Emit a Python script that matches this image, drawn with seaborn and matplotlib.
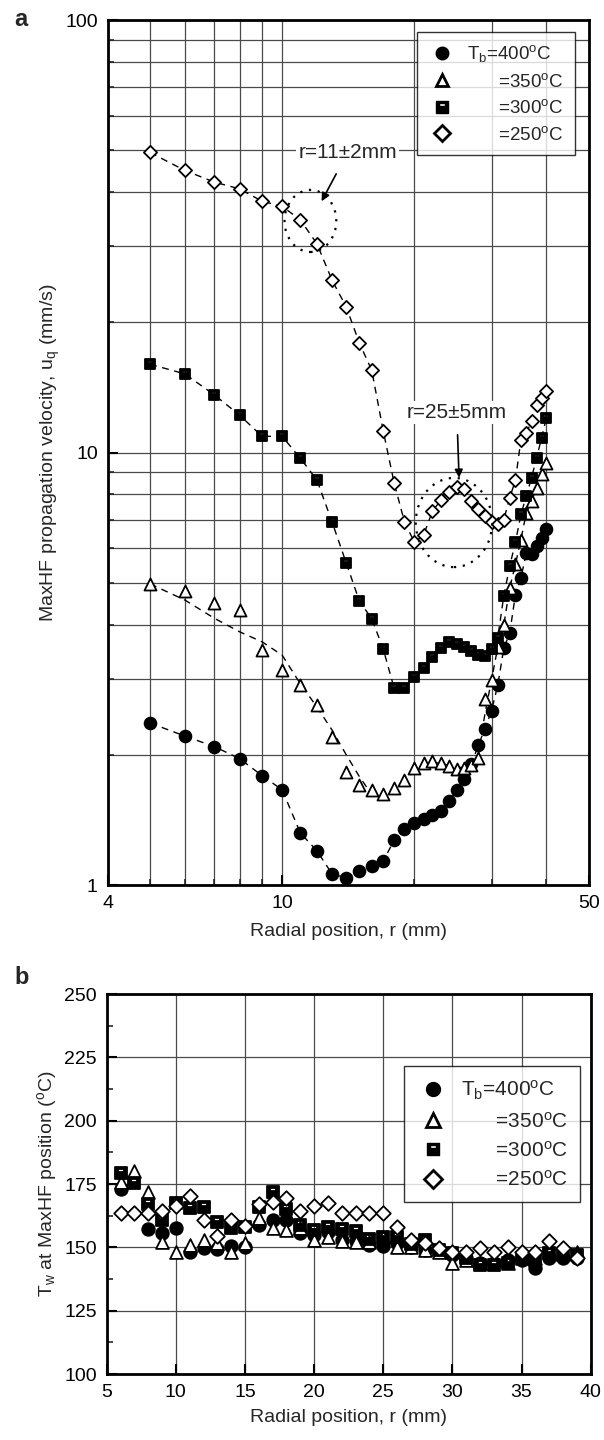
import numpy as np
import pandas as pd
import matplotlib
matplotlib.use("Agg")
import matplotlib.pyplot as plt
import seaborn as sns
from matplotlib.path import Path
from matplotlib.lines import Line2D
from matplotlib.patches import Ellipse
from matplotlib.ticker import FixedLocator, NullFormatter, FuncFormatter

# ---------------------- DATA ----------------------
# panel a: MaxHF propagation velocity (mm/s) vs radial position (mm)
r_a = list(range(5, 41))
u_400 = [2.37, 2.21, 2.09, 1.96, 1.79, 1.66, 1.32, 1.20, 1.06, 1.04, 1.076, 1.107,
         1.137, 1.27, 1.35, 1.39, 1.42, 1.45, 1.48, 1.56, 1.66, 1.76, 1.90, 2.11,
         2.30, 2.53, 2.90, 3.53, 3.82, 4.69, 5.13, 5.85, 5.83, 6.07, 6.35, 6.64]
u_350 = [4.97, 4.79, 4.49, 4.33, 3.50, 3.15, 2.90, 2.61, 2.20, 1.83, 1.70, 1.66,
         1.62, 1.68, 1.75, 1.86, 1.91, 1.94, 1.91, 1.88, 1.85, 1.86, 1.89, 1.97,
         2.69, 2.98, 3.55, 4.00, 4.86, 5.51, 6.29, 7.25, 7.72, 8.26, 8.90, 9.47]
u_300 = [16.0, 15.2, 13.6, 12.2, 10.9, 10.9, 9.7, 8.64, 6.90, 5.55, 4.53, 4.13,
         3.51, 2.85, 2.86, 3.02, 3.17, 3.36, 3.53, 3.64, 3.61, 3.56, 3.47, 3.41,
         3.38, 3.51, 3.73, 4.67, 5.46, 6.2, 7.19, 7.93, 8.74, 9.72, 10.8, 12.04]
u_250 = [49.4, 44.9, 42.2, 40.7, 38.1, 37.1, 34.5, 30.4, 25.0, 21.7, 17.9, 15.5,
         11.2, 8.5, 6.91, 6.21, 6.44, 7.32, 7.76, 8.11, 8.33, 8.22, 7.72, 7.42,
         7.13, 6.91, 6.85, 7.0, 7.86, 8.62, 10.7, 11.1, 11.8, 12.9, 13.4, 13.9]
# dashed guide line for 350 C (it does not pass through every point)
trend350_r = [5, 6, 7, 8, 9, 10, 11, 12, 13, 14, 15, 16, 17, 18, 19, 20, 21, 22,
              23, 24, 25, 26, 27, 28, 29, 30, 31, 32, 33, 34, 35, 36, 37, 38, 39, 40]
trend350_u = [4.97, 4.56, 4.14, 3.85, 3.65, 3.40, 2.92, 2.58, 2.28, 2.0, 1.78, 1.62,
              1.6, 1.66, 1.74, 1.84, 1.9, 1.92, 1.91, 1.89, 1.87, 1.87, 1.9, 2.0,
              2.5, 2.98, 3.55, 4.0, 4.86, 5.51, 6.29, 7.25, 7.72, 8.26, 8.90, 9.47]

# panel b: wall temperature at MaxHF position
r_b = list(range(6, 40))
tw_400 = [172.9, np.nan, 157.3, 155.8, 157.5, 148.3, 149.6, 149.3, 150.5, 150.2,
          158.8, 161.0, 161.0, 155.5, 154.8, 156.2, 153.1, 152.5, 150.9, 150.6,
          151.6, 150.0, 148.9, 148.9, 147.0, 146.0, 144.0, 144.0, 145.0, 145.0,
          142.0, 146.0, 146.0, 146.0]
tw_350 = [175.9, 180.2, 171.7, 152.2, 148.3, 150.9, 153.1, 151.6, 148.3, 151.6,
          161.4, 157.5, 156.8, 157.5, 152.9, 153.9, 152.6, 152.2, 152.0, 153.9,
          150.2, 150.2, 149.0, 148.0, 144.0, 145.0, 144.0, 145.0, 144.0, 146.0,
          146.0, 148.0, 148.0, 148.3]
tw_300 = [179.5, 175.5, 167.1, 161.0, 167.6, 165.4, 166.0, 160.1, 157.5, 157.9,
          166.0, 172.0, 165.0, 158.8, 156.8, 157.9, 157.1, 156.4, 153.5, 153.9,
          153.9, 151.3, 152.9, 149.0, 147.6, 146.0, 143.0, 143.0, 144.0, 146.0,
          145.0, 147.6, 147.0, 147.0]
tw_250 = [163.4, 163.4, 163.4, 164.3, 166.3, 170.4, 161.0, 154.5, 161.0, 158.4,
          167.3, 168.0, 169.3, 164.5, 166.3, 167.6, 163.7, 163.7, 163.7, 163.4,
          157.9, 152.9, 151.6, 149.6, 148.3, 148.3, 149.6, 148.3, 150.2, 148.3,
          148.3, 152.6, 149.6, 146.0]

labels = [r"T$_\mathregular{b}$=400$^\mathregular{o}$C",
          r"      =350$^\mathregular{o}$C",
          r"      =300$^\mathregular{o}$C",
          r"      =250$^\mathregular{o}$C"]

# ---------------------- STYLE ----------------------
sns.set_theme(style="ticks")
plt.rcParams["font.family"] = ["Liberation Sans", "DejaVu Sans"]
plt.rcParams["mathtext.fontset"] = "custom"
plt.rcParams["mathtext.rm"] = "Liberation Sans"
plt.rcParams["mathtext.it"] = "Liberation Sans"
plt.rcParams["axes.unicode_minus"] = False

# black square with a white slot near the top
sq_verts = [(-1, -1), (1, -1), (1, 1), (-1, 1), (-1, -1),
            (-0.55, 0.15), (-0.55, 0.65), (0.55, 0.65), (0.55, 0.15), (-0.55, 0.15)]
sq_codes = [Path.MOVETO, Path.LINETO, Path.LINETO, Path.LINETO, Path.CLOSEPOLY,
            Path.MOVETO, Path.LINETO, Path.LINETO, Path.LINETO, Path.CLOSEPOLY]
half_square = Path(sq_verts, sq_codes)

styles = [
    dict(marker="o", facecolor="black", s=72),
    dict(marker="^", facecolor="white", s=75),
    dict(marker=half_square, facecolor="black", s=60),
    dict(marker="D", facecolor="white", s=45),
]

def legend_handles(ms):
    hs = []
    hs.append(Line2D([], [], ls="none", marker="o", mfc="black", mec="black", ms=ms))
    hs.append(Line2D([], [], ls="none", marker="^", mfc="white", mec="black", ms=ms, mew=2))
    hs.append(Line2D([], [], ls="none", marker=half_square, mfc="black", mec="black", ms=ms - 1))
    hs.append(Line2D([], [], ls="none", marker="D", mfc="white", mec="black", ms=ms - 1, mew=2))
    return hs

fig = plt.figure(figsize=(6.04, 14.4), dpi=100)
ax1 = fig.add_axes([0.178, 0.3854, 0.797, 0.6007])
ax2 = fig.add_axes([0.1767, 0.0458, 0.8013, 0.2639])

grid_kw = dict(color="#4a4a4a", linewidth=0.9)

# ---------------------- PANEL a ----------------------
dash = (0, (5, 4))
sns.lineplot(x=r_a, y=u_400, ax=ax1, sort=False, estimator=None, color="black", lw=1, linestyle=dash)
sns.lineplot(x=trend350_r, y=trend350_u, ax=ax1, sort=False, estimator=None, color="black", lw=1, linestyle=dash)
sns.lineplot(x=r_a, y=u_300, ax=ax1, sort=False, estimator=None, color="black", lw=1, linestyle=dash)
sns.lineplot(x=r_a, y=u_250, ax=ax1, sort=False, estimator=None, color="black", lw=1, linestyle=dash)

for vals, st in zip([u_400, u_350, u_300, u_250], styles):
    sns.scatterplot(x=r_a, y=vals, ax=ax1, marker=st["marker"], s=st["s"],
                    color=st["facecolor"], edgecolor="black", linewidth=1.3, zorder=3)

ax1.set_xscale("log")
ax1.set_yscale("log")
ax1.set_xlim(4, 50)
ax1.set_ylim(1, 100)
ax1.xaxis.set_major_locator(FixedLocator([4, 10, 50]))
ax1.xaxis.set_minor_locator(FixedLocator([5, 6, 7, 8, 9, 20, 30, 40]))
ax1.yaxis.set_major_locator(FixedLocator([1, 10, 100]))
ax1.yaxis.set_minor_locator(FixedLocator([2, 3, 4, 5, 6, 7, 8, 9, 20, 30, 40, 50, 60, 70, 80, 90]))
fmt = FuncFormatter(lambda v, p: f"{v:g}")
ax1.xaxis.set_major_formatter(fmt)
ax1.yaxis.set_major_formatter(fmt)
ax1.xaxis.set_minor_formatter(NullFormatter())
ax1.yaxis.set_minor_formatter(NullFormatter())
ax1.grid(True, which="both", **grid_kw)
ax1.set_axisbelow(True)
ax1.set_xlabel("Radial position, r (mm)", fontsize=14, labelpad=8)
ax1.set_ylabel(r"MaxHF propagation velocity, u$_\mathregular{q}$ (mm/s)", fontsize=14, labelpad=2)

# annotations
ax1.annotate("r=11\u00b12mm", xy=(12.3, 38.1), xytext=(14.1, 49.4), fontsize=15,
             ha="center", va="center",
             bbox=dict(boxstyle="square,pad=0.1", fc="white", ec="none"),
             arrowprops=dict(arrowstyle="-|>", color="black", lw=1.2, shrinkA=8, shrinkB=0,
                             mutation_scale=12))
ax1.annotate("r=25\u00b15mm", xy=(25.3, 8.74), xytext=(25.0, 12.4), fontsize=15,
             ha="center", va="center",
             bbox=dict(boxstyle="square,pad=0.1", fc="white", ec="none"),
             arrowprops=dict(arrowstyle="-|>", color="black", lw=1.2, shrinkA=8, shrinkB=0,
                             mutation_scale=12))
ax1.add_patch(Ellipse((0.4215, 0.7677), 0.1074, 0.0718, transform=ax1.transAxes,
                      fill=False, ls=(0, (1, 3)), lw=1.6, color="black", zorder=4))
ax1.add_patch(Ellipse((0.7197, 0.4191), 0.159, 0.1031, transform=ax1.transAxes,
                      fill=False, ls=(0, (1, 3)), lw=1.6, color="black", zorder=4))

leg1 = ax1.legend(legend_handles(9), labels, loc="upper right", bbox_to_anchor=(0.971, 0.986),
                  borderaxespad=0, frameon=True, fancybox=False, fontsize=13.5,
                  handletextpad=0.6, labelspacing=0.45, borderpad=0.6, handlelength=1.5)
leg1.get_frame().set_edgecolor("black")
leg1.get_frame().set_linewidth(1.0)

# ---------------------- PANEL b ----------------------
for vals, st in zip([tw_400, tw_350, tw_300, tw_250], styles):
    sns.scatterplot(x=r_b, y=vals, ax=ax2, marker=st["marker"], s=st["s"] + 10,
                    color=st["facecolor"], edgecolor="black", linewidth=1.3, zorder=3)

ax2.set_xlim(5, 40)
ax2.set_ylim(100, 250)
ax2.set_xticks(np.arange(5, 41, 5))
ax2.set_yticks(np.arange(100, 251, 25))
ax2.yaxis.set_minor_locator(FixedLocator(np.arange(112.5, 250, 25)))
ax2.grid(True, which="major", **grid_kw)
ax2.set_axisbelow(True)
ax2.set_xlabel("Radial position, r (mm)", fontsize=14, labelpad=6)
ax2.set_ylabel(r"T$_\mathregular{w}$ at MaxHF position ($^\mathregular{o}$C)", fontsize=14, labelpad=4)

leg2 = ax2.legend(legend_handles(10), labels, loc="upper right", bbox_to_anchor=(0.978, 0.8105),
                  borderaxespad=0, frameon=True, fancybox=False, fontsize=15,
                  handletextpad=0.6, labelspacing=0.45, borderpad=0.6, handlelength=1.5)
leg2.get_frame().set_edgecolor("black")
leg2.get_frame().set_linewidth(1.0)

for ax in (ax1, ax2):
    for sp in ax.spines.values():
        sp.set_linewidth(2)
        sp.set_color("black")
        sp.set_visible(True)
    ax.tick_params(which="major", direction="in", length=7, width=1.5, labelsize=14, pad=7,
                   colors="black")
    ax.tick_params(which="minor", direction="in", length=4, width=1.2)

fig.text(14 / 604, 1 - 20 / 1440, "a", fontsize=17, fontweight="bold", ha="left", va="center")
fig.text(14 / 604, 1 - 977 / 1440, "b", fontsize=17, fontweight="bold", ha="left", va="center")

fig.savefig("out.png", dpi=100)
